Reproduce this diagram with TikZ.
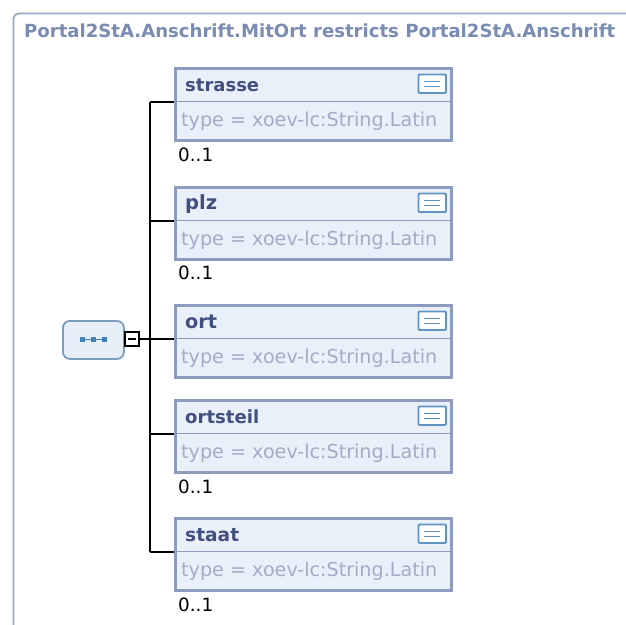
\documentclass[tikz,border=0pt]{standalone}
\usepackage{fontspec}
\setmainfont{DejaVu Sans}
\usepackage{graphicx}
\usetikzlibrary{calc}
\definecolor{frameC}{HTML}{9AA8C4}
\definecolor{titleC}{HTML}{7A8CB2}
\definecolor{boxB}{HTML}{8D9CBE}
\definecolor{boxF}{HTML}{EAF0FA}
\definecolor{nameC}{HTML}{43507F}
\definecolor{typeC}{HTML}{A3ACC6}
\definecolor{iconC}{HTML}{5E93C2}
\definecolor{seqB}{HTML}{7E9CC0}
\definecolor{seqF}{HTML}{E6EEF8}
\definecolor{dotC}{HTML}{3E82B8}
\tikzset{
  x=1pt,y=-1pt,
  elbox/.style={draw=boxB,line width=3.5pt,fill=boxF,minimum width=276pt,minimum height=72pt,inner sep=0pt},
  nametxt/.style={anchor=west,text=nameC,inner sep=0pt},
  typetxt/.style={anchor=west,text=typeC,inner sep=0pt},
  multtxt/.style={anchor=west,text=black,inner sep=0pt},
  conn/.style={line width=2pt,black},
}
\newcommand{\elem}[4]{%
  \node[elbox,anchor=north west] (#3) at (173.5,#2+1.5) {};
  \draw[boxB,line width=1.8pt] (175,#2+36.5) -- (450,#2+36.5);
  \node[nametxt] (#3n) at (185,#2+20) {\resizebox{#4}{!}{\bfseries #1}};
  \node[typetxt] (#3t) at (181,#2+56) {\resizebox{256pt}{!}{type = xoev-lc:String.Latin}};
  \draw[iconC,line width=1.8pt,fill=white,rounded corners=1pt] (418.5,#2+9.5) rectangle (446,#2+28);
  \draw[iconC,line width=1.3pt] (424,#2+16.5) -- (440,#2+16.5) (424,#2+21.5) -- (440,#2+21.5);
  \coordinate (#3c) at (173.5,#2+37);
}
\begin{document}
\begin{tikzpicture}
\useasboundingbox (0,0) rectangle (626,624);
\fill[white] (0,0) rectangle (626,624);
\draw[frameC,line width=1.8pt,rounded corners=5pt] (13.5,630) -- (13.5,13.5) -- (640,13.5);
\node[anchor=west,text=titleC,inner sep=0pt] (title) at (24,31) {\resizebox{591pt}{!}{\bfseries Portal2StA.Anschrift.MitOrt restricts Portal2StA.Anschrift}};
\elem{strasse}{65}{e1}{74pt}
\elem{plz}{184}{e2}{32pt}
\elem{ort}{302}{e3}{32pt}
\elem{ortsteil}{397}{e4}{74pt}
\elem{staat}{515}{e5}{54pt}
\node[multtxt] (m1) at (178,155) {\resizebox{35pt}{!}{0..1}};
\node[multtxt] (m2) at (178,273) {\resizebox{35pt}{!}{0..1}};
\node[multtxt] (m4) at (178,487) {\resizebox{35pt}{!}{0..1}};
\node[multtxt] (m5) at (178,605) {\resizebox{35pt}{!}{0..1}};
\node[draw=seqB,line width=1.8pt,fill=seqF,rounded corners=7pt,minimum width=61pt,minimum height=38pt,inner sep=0pt,anchor=north west] (seq) at (62,320) {};
\draw[dotC,line width=1pt] ($(seq.center)+(-11,0)$) -- ($(seq.center)+(11,0)$);
\foreach \dx in {-11,0,11} \fill[dotC] ($(seq.center)+(\dx,0)$) ++(-2.5,-2.5) rectangle ++(5,5);
\node[draw=black,line width=2pt,fill=white,minimum size=14pt,inner sep=0pt] (minus) at (132,338.5) {};
\draw[black,line width=2pt] (128,338.5) -- (136,338.5);
\coordinate (bus) at (150,338.5);
\draw[conn] (minus.east) -- (bus);
\draw[conn] (e1c -| bus) -- (e5c -| bus);
\foreach \e in {e1,e2,e3,e4,e5} \draw[conn] (\e c -| bus) -- (\e c);
\end{tikzpicture}
\end{document}
